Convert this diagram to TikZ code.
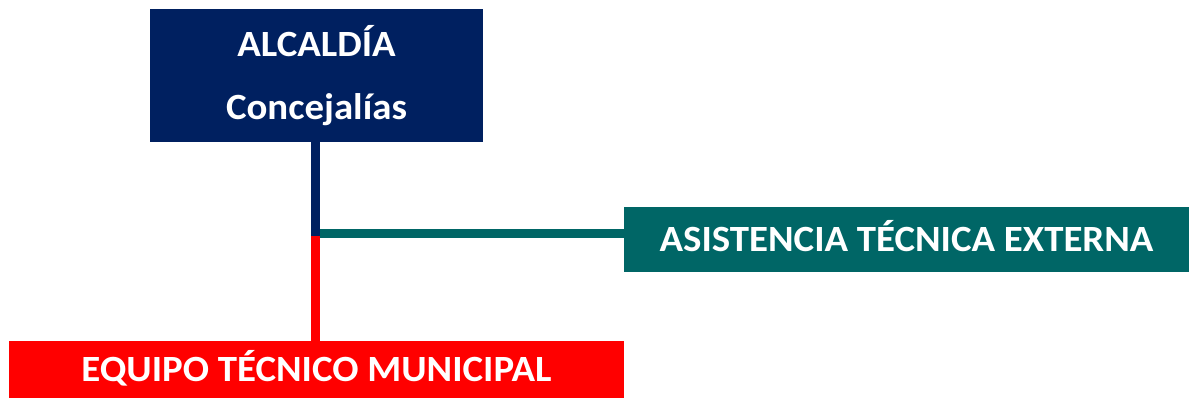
\documentclass[tikz,border=0pt]{standalone}
\usepackage{fontspec}
\setmainfont{Carlito}[FakeStretch=1.05]
\usetikzlibrary{positioning,calc}

\definecolor{navy}{HTML}{002060}
\definecolor{tealgreen}{HTML}{006666}
\definecolor{signalred}{HTML}{FF0000}

\begin{document}
\begin{tikzpicture}[x=1pt,y=-1pt,font=\bfseries\fontsize{37}{63.5}\selectfont]
\tikzstyle{unit}=[inner sep=0pt,text=white,align=center,text height=23.5pt,text depth=0pt]
\tikzstyle{link}=[line width=9pt]
\useasboundingbox (0,0) rectangle (1189,398);
% boxes of the organisation chart
\node[unit,fill=navy,minimum width=333pt,minimum height=133pt,text height=,text depth=] (alc) at (316.5,75.5) {ALCALDÍA\\Concejalías};
\node[unit,fill=tealgreen,minimum width=565pt,minimum height=65pt] (ate) at (906.5,239.5) {ASISTENCIA TÉCNICA EXTERNA};
\node[unit,fill=signalred,minimum width=615pt,minimum height=58pt] (etm) at (316.5,370) {EQUIPO TÉCNICO MUNICIPAL};
\coordinate (j) at (315.5,236);
% connectors
\draw[link,navy] (alc.south -| j) -- (j);
\draw[link,signalred] (j) -- (j |- etm.north);
\draw[link,tealgreen] ($(j)+(4.5,-2)$) -- ($(j -| ate.west)+(0,-2)$);
\end{tikzpicture}
\end{document}
